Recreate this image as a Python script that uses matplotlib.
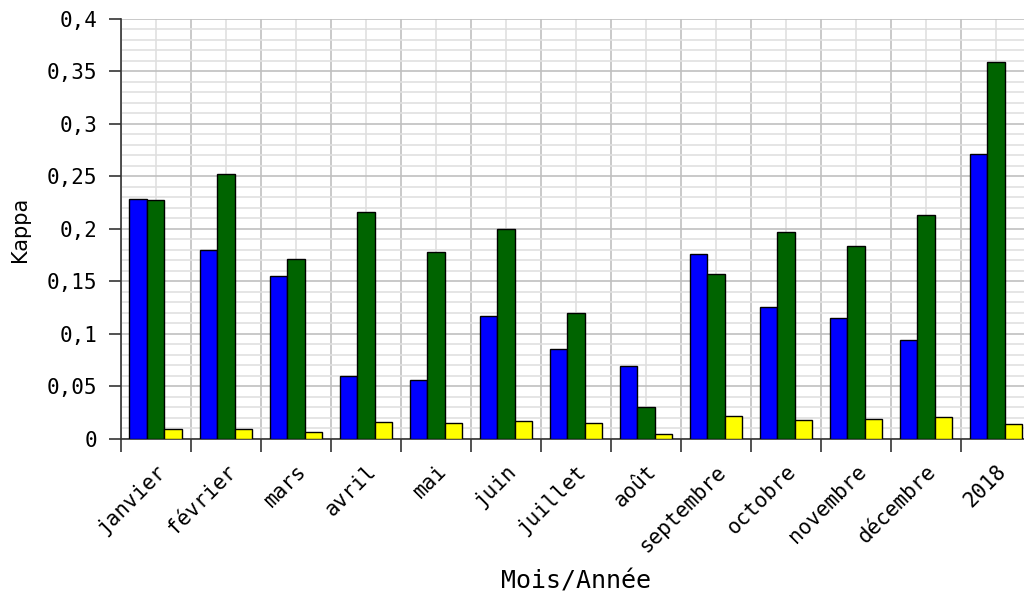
import matplotlib.pyplot as plt
import numpy as np
from matplotlib.ticker import FuncFormatter, MultipleLocator

mois = ['janvier', 'février', 'mars', 'avril', 'mai', 'juin', 'juillet',
        'août', 'septembre', 'octobre', 'novembre', 'décembre', '2018']
bleu = [0.2286, 0.1797, 0.1556, 0.0603, 0.0562, 0.1175, 0.0860,
        0.0692, 0.1762, 0.1260, 0.1150, 0.0940, 0.2714]
vert = [0.2273, 0.2527, 0.1718, 0.2159, 0.1784, 0.2000, 0.1203,
        0.0308, 0.1571, 0.1971, 0.1838, 0.2133, 0.3593]
jaune = [0.0098, 0.0098, 0.0067, 0.0159, 0.0152, 0.0168, 0.0156,
         0.0050, 0.0222, 0.0184, 0.0190, 0.0207, 0.0140]

mono = 'DejaVu Sans Mono'

fig = plt.figure(figsize=(10.24, 5.95), dpi=100)
ax = fig.add_axes([0.1179, 0.2622, 0.889, 0.7059])

x = np.arange(len(mois))
w = 0.25
ax.bar(x - w, bleu, w, color='#0000ff', edgecolor='black', linewidth=1, zorder=3)
ax.bar(x, vert, w, color='#006400', edgecolor='black', linewidth=1, zorder=3)
ax.bar(x + w, jaune, w, color='#ffff00', edgecolor='black', linewidth=1, zorder=3)

ax.set_xlim(-0.5, len(mois) - 0.5)
ax.set_ylim(0, 0.4)

# x : labels au centre des groupes, petites graduations aux limites
ax.set_xticks(x)
ax.set_xticklabels(mois, rotation=45, ha='right', rotation_mode='anchor',
                   family=mono, fontsize=15)
ax.set_xticks(np.arange(len(mois) + 1) - 0.5, minor=True)
ax.tick_params(axis='x', which='major', length=0, pad=16)
ax.tick_params(axis='x', which='minor', length=9, width=1.2, color='#333333')

# y
ax.yaxis.set_major_locator(MultipleLocator(0.05))
ax.yaxis.set_minor_locator(MultipleLocator(0.01))
ax.yaxis.set_major_formatter(FuncFormatter(lambda v, p: ('%g' % round(v, 2)).replace('.', ',')))
ax.tick_params(axis='y', which='major', length=9, width=1.2, color='#333333',
               pad=8, labelsize=15)
ax.tick_params(axis='y', which='minor', length=0)
for t in ax.get_yticklabels():
    t.set_family(mono)

ax.grid(True, which='major', axis='y', color='#c0c0c0', linewidth=1.2, zorder=0)
ax.grid(True, which='minor', axis='y', color='#e0e0e0', linewidth=1.2, zorder=0)
ax.grid(True, which='minor', axis='x', color='#c0c0c0', linewidth=1.2, zorder=0)
ax.grid(True, which='major', axis='x', color='#e0e0e0', linewidth=1.2, zorder=0)

for s in ['top', 'right']:
    ax.spines[s].set_visible(False)
ax.spines['left'].set_color('#333333')
ax.spines['bottom'].set_color('#333333')
ax.spines['left'].set_linewidth(1.2)
ax.spines['bottom'].set_linewidth(1.2)

ax.set_ylabel('Kappa', fontsize=15, family='DejaVu Sans', labelpad=12)
ax.set_xlabel('Mois/Année', fontsize=18, family=mono, labelpad=10)

fig.savefig('out.png', dpi=100)
